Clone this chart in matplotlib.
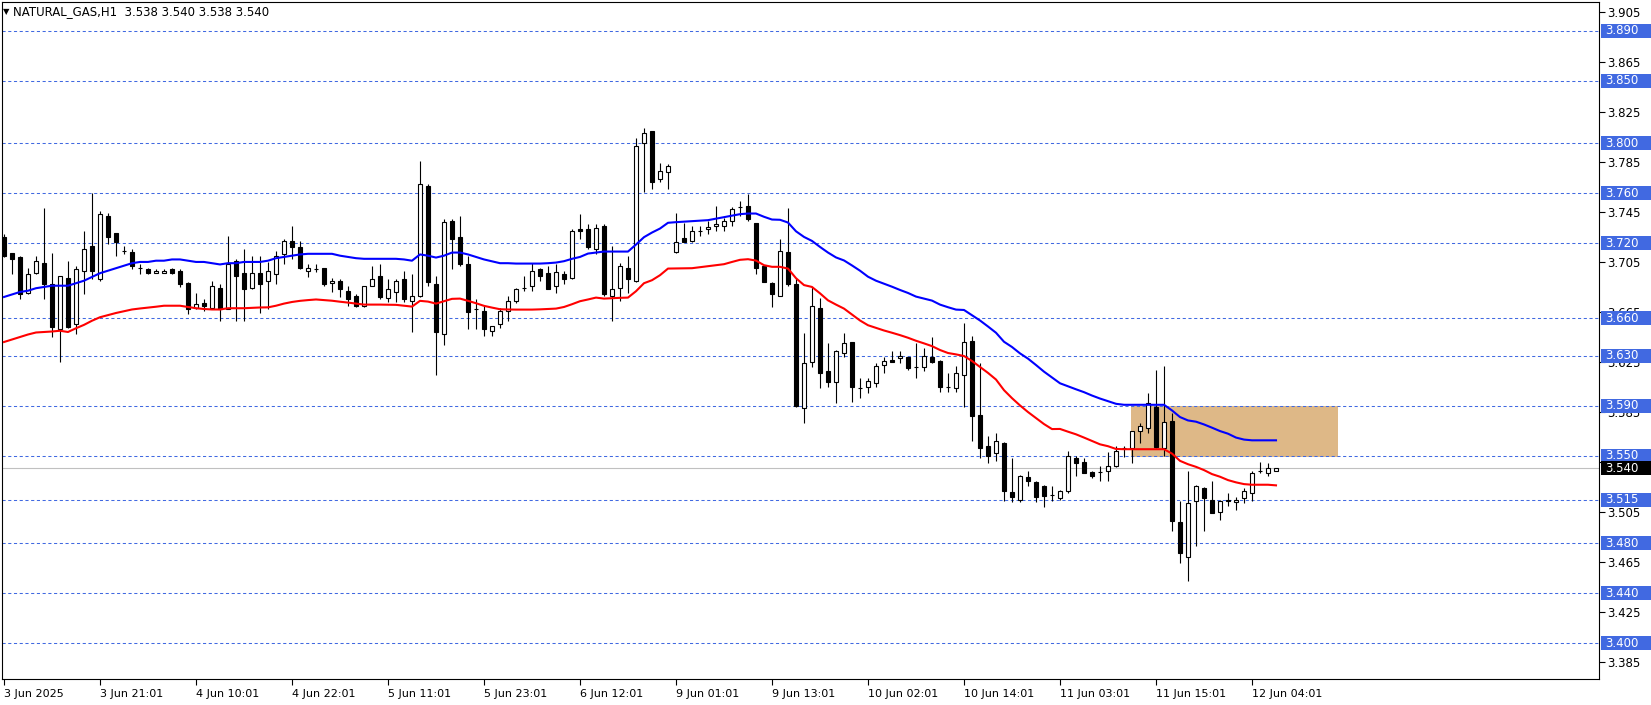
import matplotlib
matplotlib.use('Agg')
import matplotlib.pyplot as plt
import matplotlib.transforms as mtransforms
from matplotlib.patches import Rectangle
import numpy as np

plt.rcParams['font.family'] = ['DejaVu Sans']

# NATURAL_GAS H1, bars from 3 Jun 2025 09:01 to 12 Jun 2025 07:01
opens = [
    3.725, 3.712, 3.709, 3.680, 3.696, 3.704, 3.687, 3.651, 3.692, 3.655,
    3.698, 3.718, 3.691, 3.742, 3.728, 3.714, 3.713, 3.700, 3.699, 3.696,
    3.696, 3.699, 3.698, 3.688, 3.668, 3.672, 3.668, 3.684, 3.667, 3.706,
    3.696, 3.684, 3.696, 3.690, 3.695, 3.711, 3.722, 3.717, 3.698, 3.699,
    3.700, 3.688, 3.690, 3.682, 3.678, 3.670, 3.686, 3.694, 3.676, 3.681,
    3.691, 3.674, 3.678, 3.766, 3.687, 3.647, 3.738, 3.725, 3.703, 3.667,
    3.666, 3.650, 3.655, 3.666, 3.674, 3.684, 3.686, 3.699, 3.696, 3.686,
    3.695, 3.692, 3.731, 3.731, 3.715, 3.734, 3.678, 3.684, 3.700, 3.690,
    3.800, 3.810, 3.771, 3.777, 3.713, 3.724, 3.722, 3.730, 3.731, 3.734,
    3.734, 3.738, 3.749, 3.750, 3.736, 3.702, 3.688, 3.678, 3.713, 3.687,
    3.588, 3.625, 3.668, 3.618, 3.609, 3.632, 3.641, 3.604, 3.605, 3.608,
    3.623, 3.627, 3.628, 3.629, 3.621, 3.621, 3.629, 3.626, 3.605, 3.604,
    3.615, 3.642, 3.583, 3.558, 3.552, 3.560, 3.521, 3.515, 3.533, 3.529,
    3.526, 3.519, 3.516, 3.522, 3.548, 3.545, 3.537, 3.537, 3.538, 3.542,
    3.556, 3.556, 3.570, 3.572, 3.589, 3.556, 3.578, 3.497, 3.469, 3.514,
    3.524, 3.515, 3.505, 3.515, 3.513, 3.516, 3.520, 3.538, 3.536, 3.538,
]
highs = [
    3.727, 3.712, 3.710, 3.700, 3.710, 3.748, 3.712, 3.694, 3.706, 3.702,
    3.730, 3.760, 3.746, 3.744, 3.728, 3.718, 3.715, 3.703, 3.700, 3.699,
    3.699, 3.700, 3.699, 3.689, 3.680, 3.675, 3.690, 3.687, 3.726, 3.707,
    3.715, 3.710, 3.710, 3.705, 3.714, 3.723, 3.734, 3.722, 3.703, 3.703,
    3.700, 3.692, 3.691, 3.686, 3.679, 3.686, 3.702, 3.703, 3.691, 3.691,
    3.698, 3.695, 3.786, 3.767, 3.694, 3.739, 3.739, 3.742, 3.710, 3.675,
    3.670, 3.654, 3.668, 3.678, 3.684, 3.694, 3.704, 3.700, 3.702, 3.703,
    3.698, 3.731, 3.743, 3.735, 3.735, 3.735, 3.718, 3.704, 3.710, 3.804,
    3.812, 3.810, 3.784, 3.783, 3.744, 3.736, 3.734, 3.734, 3.738, 3.750,
    3.740, 3.749, 3.754, 3.759, 3.736, 3.702, 3.689, 3.723, 3.748, 3.692,
    3.648, 3.685, 3.676, 3.640, 3.635, 3.648, 3.641, 3.612, 3.612, 3.624,
    3.629, 3.634, 3.634, 3.629, 3.640, 3.636, 3.645, 3.627, 3.616, 3.622,
    3.656, 3.646, 3.624, 3.566, 3.568, 3.561, 3.548, 3.535, 3.538, 3.530,
    3.527, 3.526, 3.523, 3.554, 3.550, 3.548, 3.538, 3.542, 3.553, 3.558,
    3.558, 3.570, 3.576, 3.600, 3.619, 3.622, 3.584, 3.514, 3.538, 3.527,
    3.525, 3.530, 3.515, 3.520, 3.517, 3.524, 3.538, 3.545, 3.544, 3.540,
]
lows = [
    3.709, 3.695, 3.675, 3.679, 3.695, 3.675, 3.645, 3.625, 3.652, 3.647,
    3.679, 3.691, 3.690, 3.719, 3.710, 3.711, 3.699, 3.695, 3.695, 3.696,
    3.696, 3.695, 3.685, 3.663, 3.667, 3.666, 3.667, 3.658, 3.667, 3.658,
    3.658, 3.683, 3.664, 3.667, 3.687, 3.703, 3.707, 3.699, 3.693, 3.697,
    3.686, 3.681, 3.677, 3.670, 3.669, 3.669, 3.686, 3.675, 3.673, 3.673,
    3.673, 3.649, 3.677, 3.686, 3.615, 3.639, 3.699, 3.702, 3.651, 3.651,
    3.646, 3.646, 3.652, 3.658, 3.672, 3.682, 3.682, 3.690, 3.683, 3.680,
    3.687, 3.691, 3.723, 3.715, 3.711, 3.678, 3.658, 3.674, 3.680, 3.689,
    3.761, 3.763, 3.769, 3.763, 3.712, 3.721, 3.721, 3.726, 3.727, 3.730,
    3.730, 3.734, 3.742, 3.738, 3.695, 3.689, 3.669, 3.678, 3.686, 3.589,
    3.576, 3.621, 3.604, 3.605, 3.592, 3.629, 3.593, 3.596, 3.600, 3.605,
    3.616, 3.625, 3.624, 3.619, 3.612, 3.618, 3.624, 3.601, 3.601, 3.601,
    3.589, 3.562, 3.548, 3.544, 3.546, 3.514, 3.513, 3.513, 3.526, 3.513,
    3.509, 3.514, 3.515, 3.520, 3.534, 3.536, 3.532, 3.530, 3.530, 3.541,
    3.549, 3.544, 3.560, 3.568, 3.556, 3.550, 3.490, 3.464, 3.450, 3.478,
    3.490, 3.504, 3.499, 3.510, 3.507, 3.512, 3.514, 3.536, 3.534, 3.538,
]
closes = [
    3.710, 3.707, 3.679, 3.695, 3.706, 3.687, 3.653, 3.694, 3.653, 3.699,
    3.715, 3.698, 3.743, 3.725, 3.721, 3.714, 3.702, 3.700, 3.696, 3.698,
    3.698, 3.696, 3.687, 3.667, 3.671, 3.670, 3.686, 3.667, 3.703, 3.694,
    3.683, 3.696, 3.687, 3.698, 3.710, 3.722, 3.717, 3.700, 3.700, 3.699,
    3.687, 3.690, 3.683, 3.675, 3.670, 3.686, 3.691, 3.677, 3.683, 3.690,
    3.675, 3.678, 3.767, 3.689, 3.649, 3.737, 3.723, 3.703, 3.665, 3.667,
    3.651, 3.654, 3.666, 3.674, 3.683, 3.684, 3.698, 3.694, 3.683, 3.697,
    3.691, 3.730, 3.730, 3.717, 3.732, 3.679, 3.683, 3.702, 3.691, 3.798,
    3.808, 3.769, 3.778, 3.782, 3.721, 3.721, 3.730, 3.730, 3.733, 3.735,
    3.738, 3.747, 3.749, 3.739, 3.700, 3.689, 3.679, 3.714, 3.687, 3.590,
    3.624, 3.670, 3.616, 3.609, 3.634, 3.640, 3.605, 3.604, 3.610, 3.622,
    3.626, 3.625, 3.630, 3.620, 3.621, 3.630, 3.625, 3.605, 3.605, 3.616,
    3.641, 3.582, 3.556, 3.550, 3.562, 3.522, 3.517, 3.534, 3.530, 3.517,
    3.518, 3.519, 3.522, 3.550, 3.544, 3.536, 3.534, 3.537, 3.542, 3.554,
    3.556, 3.570, 3.574, 3.592, 3.557, 3.577, 3.498, 3.472, 3.512, 3.526,
    3.516, 3.504, 3.514, 3.514, 3.515, 3.522, 3.536, 3.538, 3.540, 3.540,
]

# upper (blue) and lower (red) moving average lines
ma_blue = [
    3.677, 3.679, 3.681, 3.682, 3.684, 3.685, 3.686, 3.686, 3.686, 3.688,
    3.690, 3.693, 3.696, 3.698, 3.700, 3.702, 3.704, 3.705, 3.705, 3.706,
    3.706, 3.707, 3.707, 3.706, 3.705, 3.705, 3.704, 3.703, 3.704, 3.704,
    3.705, 3.705, 3.705, 3.706, 3.708, 3.709, 3.710, 3.711, 3.7115, 3.7115,
    3.7115, 3.7115, 3.710, 3.709, 3.708, 3.7075, 3.7075, 3.7075, 3.7075, 3.7075,
    3.707, 3.706, 3.711, 3.710, 3.7085, 3.710, 3.7125, 3.7125, 3.711, 3.709,
    3.707, 3.7055, 3.704, 3.704, 3.7037, 3.7037, 3.7037, 3.7037, 3.704, 3.7045,
    3.7056, 3.7075, 3.709, 3.7117, 3.7125, 3.7133, 3.7133, 3.7133, 3.7133, 3.7189,
    3.7248, 3.7285, 3.7317, 3.7363, 3.7368, 3.7372, 3.7376, 3.738, 3.7384, 3.7396,
    3.7408, 3.742, 3.7432, 3.7437, 3.7437, 3.7411, 3.7389, 3.7387, 3.7365, 3.7295,
    3.725, 3.7218, 3.717, 3.7125, 3.7086, 3.7062, 3.7022, 3.698, 3.6932, 3.690,
    3.6876, 3.6852, 3.6826, 3.6802, 3.6773, 3.6757, 3.6741, 3.6709, 3.6688, 3.6669,
    3.6666, 3.6624, 3.6582, 3.6534, 3.6484, 3.6412, 3.637, 3.6319, 3.6277, 3.6226,
    3.6173, 3.6126, 3.608, 3.6056, 3.6032, 3.6009, 3.5982, 3.5958, 3.5937, 3.5916,
    3.5908, 3.5908, 3.5908, 3.5908, 3.5908, 3.5908, 3.5863, 3.581, 3.5783, 3.5773,
    3.5751, 3.5725, 3.5698, 3.5677, 3.5646, 3.563, 3.5624, 3.5624, 3.5624, 3.5624,
]
ma_red = [
    3.641, 3.643, 3.645, 3.647, 3.6486, 3.649, 3.6494, 3.650, 3.649, 3.652,
    3.6547, 3.658, 3.6608, 3.6625, 3.6642, 3.6656, 3.667, 3.6678, 3.6685, 3.6692,
    3.670, 3.670, 3.670, 3.669, 3.668, 3.6674, 3.667, 3.667, 3.668, 3.668,
    3.668, 3.6683, 3.6686, 3.6687, 3.670, 3.6717, 3.673, 3.6739, 3.6745, 3.675,
    3.6745, 3.674, 3.6732, 3.6725, 3.6717, 3.6709, 3.6709, 3.6709, 3.6708, 3.6707,
    3.670, 3.6693, 3.6739, 3.6733, 3.6717, 3.6736, 3.6755, 3.6757, 3.6739, 3.672,
    3.6699, 3.6685, 3.6672, 3.667, 3.6669, 3.6669, 3.6669, 3.6671, 3.6674, 3.6677,
    3.669, 3.6712, 3.6736, 3.675, 3.6765, 3.6757, 3.676, 3.6763, 3.6765, 3.6816,
    3.688, 3.6904, 3.6944, 3.6997, 3.6998, 3.6999, 3.700, 3.7008, 3.7016, 3.7024,
    3.7032, 3.705, 3.7067, 3.7072, 3.7061, 3.7024, 3.7011, 3.7011, 3.6997, 3.692,
    3.6865, 3.685, 3.6799, 3.6743, 3.6709, 3.6677, 3.6629, 3.6582, 3.6544, 3.6523,
    3.6502, 3.6484, 3.6465, 3.6444, 3.642, 3.6399, 3.6377, 3.6346, 3.6322, 3.6311,
    3.6298, 3.6258, 3.621, 3.6163, 3.611, 3.6025, 3.5961, 3.5903, 3.585, 3.5802,
    3.5754, 3.5714, 3.5715, 3.5693, 3.5672, 3.5646, 3.5619, 3.5592, 3.5577, 3.5555,
    3.5553, 3.5553, 3.5553, 3.5553, 3.5553, 3.5553, 3.5518, 3.546, 3.5433, 3.5412,
    3.5386, 3.5354, 3.5333, 3.5306, 3.5288, 3.5274, 3.5269, 3.5269, 3.5269, 3.5264,
]

level_prices = [3.890, 3.850, 3.800, 3.760, 3.720, 3.660, 3.630, 3.590,
                3.550, 3.515, 3.480, 3.440, 3.400]
last_price = 3.540
zone_top, zone_bottom = 3.590, 3.549
zone_start, zone_end = 140.9, 166.7

price_ticks = [3.385, 3.425, 3.465, 3.505, 3.545, 3.585, 3.625, 3.665,
               3.705, 3.745, 3.785, 3.825, 3.865, 3.905]
date_ticks = [0, 12, 24, 36, 48, 60, 72, 84, 96, 108, 120, 132, 144, 156]
date_labels = ['3 Jun 2025', '3 Jun 21:01', '4 Jun 10:01', '4 Jun 22:01',
               '5 Jun 11:01', '5 Jun 23:01', '6 Jun 12:01', '9 Jun 01:01',
               '9 Jun 13:01', '10 Jun 02:01', '10 Jun 14:01', '11 Jun 03:01',
               '11 Jun 15:01', '12 Jun 04:01']

W, H = 1651, 705
AW = 1597  # plot area width in px
fig = plt.figure(figsize=(W / 100, H / 100), dpi=100)
ax = fig.add_axes([2 / W, 26 / H, AW / W, 677 / H])
ax.set_xlim(-0.25, -0.25 + AW / 8)
ax.set_ylim(3.3716, 3.9128)

o = np.array(opens)
h = np.array(highs)
l = np.array(lows)
c = np.array(closes)
x = np.arange(len(o))
up = c >= o

# zone + levels
ax.add_patch(Rectangle((zone_start, zone_bottom), zone_end - zone_start,
                       zone_top - zone_bottom, fc='#DEB887', ec='none', zorder=0.5))
for p in level_prices:
    ax.axhline(p, color='#4169E1', lw=0.75, dashes=(3, 2.5), zorder=1)
ax.axhline(last_price, color='#C0C0C0', lw=0.8, zorder=1)

# candles
ax.vlines(x, l, h, color='black', lw=0.8, zorder=3)
ax.bar(x[up], (c - o)[up], bottom=o[up], width=0.5, color='white',
       edgecolor='black', linewidth=0.8, zorder=4)
ax.bar(x[~up], (o - c)[~up], bottom=c[~up], width=0.5, color='black',
       edgecolor='black', linewidth=0.8, zorder=4)

ax.plot(x, ma_blue, color='#0000FF', lw=1.5, zorder=5)
ax.plot(x, ma_red, color='#FF0000', lw=1.5, zorder=5)

# axes look
for s in ax.spines.values():
    s.set_color('black')
    s.set_linewidth(0.8)
ax.yaxis.tick_right()
ax.set_yticks(price_ticks)
ax.set_yticklabels(['%.3f' % v for v in price_ticks])
ax.tick_params(axis='y', direction='out', length=4, width=0.8, labelsize=8.5, pad=2)
ax.set_xticks(date_ticks)
ax.set_xticklabels(date_labels, ha='left')
ax.tick_params(axis='x', direction='out', length=4, width=0.8, labelsize=8, pad=3)

# price labels on the right scale
trans = mtransforms.blended_transform_factory(ax.transAxes, ax.transData)
box_w = 52 / AW
box_h = 14 / 1251
for p in level_prices + [last_price]:
    col = 'black' if p == last_price else '#4169E1'
    ax.add_patch(Rectangle((1 + 1.5 / AW, p - box_h / 2), box_w, box_h,
                           transform=trans, fc=col, ec='none', clip_on=False, zorder=6))
    ax.text(1 + 6 / AW, p, '%.3f' % p, transform=trans, color='white',
            fontsize=8.5, va='center', ha='left', zorder=7, clip_on=False)

# header
fig.text(3 / W, 1 - 12 / H, '\u25bc', fontsize=6, va='center', ha='left')
fig.text(13 / W, 1 - 12 / H, 'NATURAL_GAS,H1  3.538 3.540 3.538 3.540',
         fontsize=8.5, va='center', ha='left')

fig.savefig('out.png', dpi=100)
